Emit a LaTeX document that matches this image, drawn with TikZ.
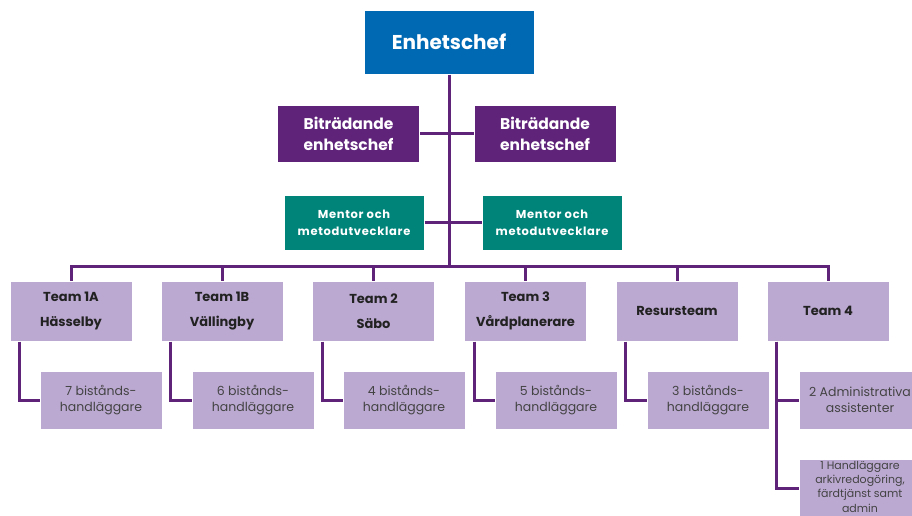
\documentclass[tikz,border=0pt]{standalone}
\usepackage{fontspec}
\setmainfont{Poppins}
\definecolor{cblue}{HTML}{0069B4}
\definecolor{cpurple}{HTML}{5F2379}
\definecolor{cteal}{HTML}{00847A}
\definecolor{clav}{HTML}{BCA9D2}
\definecolor{cline}{HTML}{5F2379}
\definecolor{ctext}{HTML}{222222}
\tikzset{
  box/.style={draw=white, line width=1pt, inner sep=0pt, align=center, anchor=center},
  bossbox/.style={box, fill=cblue, text=white, minimum width=170pt, minimum height=64pt, font=\fontsize{20}{22}\selectfont\bfseries},
  depbox/.style={box, fill=cpurple, text=white, minimum width=142pt, minimum height=57pt, font=\fontsize{15.5}{21}\selectfont\bfseries},
  mentbox/.style={box, fill=cteal, text=white, minimum width=140pt, minimum height=55pt, font=\fontsize{11.5}{17}\selectfont\bfseries\addfontfeature{LetterSpace=6}},
  teambox/.style={box, fill=clav, text=ctext, minimum width=122pt, minimum height=60pt, font=\fontsize{13}{25}\selectfont\bfseries},
  subbox/.style={box, fill=clav, text=ctext!85, minimum width=122pt, minimum height=58pt, font=\fontsize{12.5}{16}\selectfont},
  smallbox/.style={box, fill=clav, text=ctext!85, minimum width=122pt, minimum height=58pt, font=\fontsize{11}{14.3}\selectfont},
  conn/.style={draw=cline, line width=3pt}
}
\begin{document}
\begin{tikzpicture}[x=1pt,y=-1pt]
\useasboundingbox (0,0) rectangle (912,515);
\clip (0,0) rectangle (912,515);
% boxes
\node[bossbox] (boss) at (449,42) {Enhetschef};
\node[depbox] (b1) at (348.5,133.5) {Biträdande\\enhetschef};
\node[depbox] (b2) at (545,133.5) {Biträdande\\enhetschef};
\node[mentbox] (m1) at (354,222.5) {Mentor och\\metodutvecklare};
\node[mentbox] (m2) at (552,222.5) {Mentor och\\metodutvecklare};
\coordinate (bar) at (449,266);
\node[teambox] (t1) at (71,311) {Team 1A\\Hässelby};
\node[teambox] (t2) at (222,311) {Team 1B\\Vällingby};
\node[teambox] (t3) at (373.5,311) {Team 2\\Säbo};
\node[teambox] (t4) at (525.5,311) {Team 3\\Vårdplanerare};
\node[teambox] (t5) at (677,311) {Resursteam};
\node[teambox] (t6) at (828,311) {Team 4};
\node[subbox] (s1) at (101,400) {7 bistånds-\\handläggare};
\node[subbox] (s2) at (253,400) {6 bistånds-\\handläggare};
\node[subbox] (s3) at (404,400) {4 bistånds-\\handläggare};
\node[subbox] (s4) at (556,400) {5 bistånds-\\handläggare};
\node[subbox] (s5) at (708,400) {3 bistånds-\\handläggare};
\node[subbox] (s6) at (860,400) {2 Administrativa\\assistenter};
\node[smallbox] (s7) at (860,488) {};
\node[font=\fontsize{11}{14.3}\selectfont, text=ctext!85, align=center, inner sep=0pt, anchor=north] (s7t) at (860,461) {1 Handläggare\\arkivredogöring,\\färdtjänst samt\\admin};
% connectors
\draw[conn] (boss.south) -- (bar);
\draw[conn] (b1.east) -- (b2.west);
\draw[conn] (m1.east) -- (m2.west);
\draw[conn] (t1.north) |- (t6.north |- bar) -- (t6.north);
\foreach \t in {t2,t3,t4,t5} { \draw[conn] (\t.north) -- (\t.north |- bar); }
\foreach \t/\s in {t1/s1,t2/s2,t3/s3,t4/s4,t5/s5,t6/s6,t6/s7} {
  \draw[conn] ([xshift=10pt]\t.south west) |- (\s.west);
}
\end{tikzpicture}
\end{document}
